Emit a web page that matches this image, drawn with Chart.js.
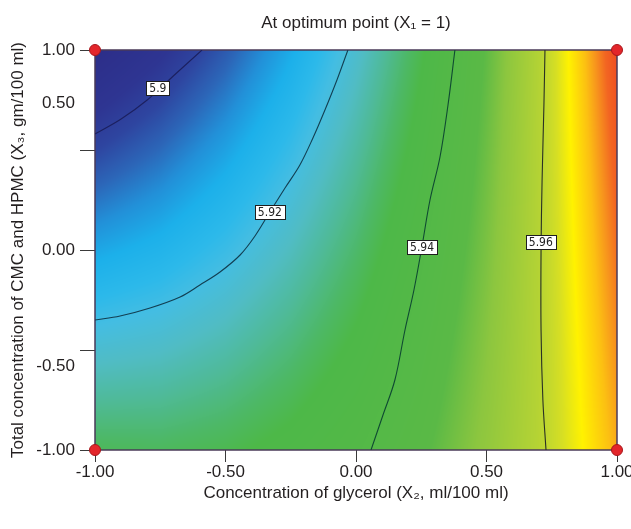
<!DOCTYPE html>
<html><head><meta charset="utf-8">
<script src="https://cdn.jsdelivr.net/npm/chart.js@4.4.1/dist/chart.umd.min.js"></script>
<style>html,body{margin:0;padding:0;background:#fff}#wrap{width:631px;height:529px}</style>
</head><body><div id="wrap"><canvas id="c" width="631" height="529"></canvas></div>
<script>
// ---------- data ----------
const chartTitle = 'At optimum point (X\u2081 = 1)';
const xAxisTitle = 'Concentration of glycerol (X\u2082, ml/100 ml)';
const yAxisTitle = 'Total concentration of CMC and HPMC (X\u2083, gm/100 ml)';

const xTickValues = [-1, -0.5, 0, 0.5, 1];
const xTickLabels = ['-1.00', '-0.50', '0.00', '0.50', '1.00'];
const yTickValues = [-1, -0.5, 0, 0.5, 1];
const yTickLabels = ['-1.00', '-0.50', '0.00', '0.50', '1.00'];

// response surface values (estimated) on a grid of X2 (columns) and X3 (rows)
const gridX2 = [-1, -0.75, -0.5, -0.25, 0, 0.25, 0.5, 0.75, 1];
const gridX3 = [1, 0.5, 0, -0.5, -1];
const respX3_p100 = [5.8902, 5.8961, 5.9035, 5.9123, 5.9226, 5.9343, 5.9475, 5.9619, 5.9779];
const respX3_p050 = [5.9009, 5.9053, 5.9112, 5.9184, 5.9271, 5.9372, 5.9489, 5.9618, 5.9762];
const respX3_000  = [5.9117, 5.9145, 5.9188, 5.9245, 5.9316, 5.9402, 5.9503, 5.9616, 5.9745];
const respX3_m050 = [5.9225, 5.9237, 5.9264, 5.9306, 5.9361, 5.9432, 5.9517, 5.9614, 5.9728];
const respX3_m100 = [5.9332, 5.9329, 5.9341, 5.9367, 5.9406, 5.9461, 5.9531, 5.9613, 5.9711];

// contour lines
const contourLevels = ['5.9', '5.92', '5.94', '5.96'];
const c590X = [-1, -0.9, -0.8, -0.7, -0.59];
const c590Y = [0.58, 0.655, 0.75, 0.87, 1.0];
const c592X = [-1, -0.904, -0.789, -0.674, -0.598, -0.521, -0.444, -0.387, -0.330, -0.272, -0.215, -0.165, -0.119, -0.073, -0.031];
const c592Y = [-0.35, -0.33, -0.29, -0.235, -0.175, -0.11, -0.025, 0.07, 0.19, 0.31, 0.425, 0.56, 0.70, 0.85, 1.0];
const c594X = [0.0575, 0.1034, 0.149, 0.1877, 0.222, 0.253, 0.2835, 0.3218, 0.3525, 0.379];
const c594Y = [-1, -0.825, -0.65, -0.40, -0.20, 0.02, 0.25, 0.465, 0.725, 1.0];
const c596X = [0.728, 0.716, 0.709, 0.709, 0.713, 0.720, 0.724];
const c596Y = [-1, -0.75, -0.4, 0.0, 0.35, 0.725, 1.0];
// where each contour's value label sits
const contourLabelX = [-0.759, -0.330, 0.253, 0.708];
const contourLabelY = [0.81, 0.19, 0.015, 0.04];

// design points (red dots)
const designX2 = [-1, -1, 1, 1];
const designX3 = [-1, 1, -1, 1];

// ---------- styling ----------
const FONT = '"Liberation Sans", Arial, sans-serif';
const TXT = '#231f20';
// the reference prints the 0.50 / -0.50 labels away from their tick marks
const yLabelAnchors = [-1, -0.58, 0, 0.735, 1];
const colorStops = [
  [5.890, '#2c2d88'], [5.897, '#2e3592'], [5.901, '#2e45a0'], [5.905, '#2c66b8'],
  [5.909, '#2290d8'], [5.913, '#1cb0ea'], [5.917, '#2cb9ea'], [5.920, '#44bde2'],
  [5.924, '#50bcc4'], [5.928, '#4fba98'], [5.932, '#4db866'], [5.935, '#4db848'],
  [5.947, '#5ab946'], [5.952, '#8cc63f'], [5.9595, '#b5d334'], [5.963, '#d7df23'],
  [5.966, '#fff200'], [5.970, '#fcc012'], [5.9725, '#f7941d'], [5.975, '#f26522'],
  [5.979, '#ee4323']
];
const stopRGB = colorStops.map(([v, h]) => [v, parseInt(h.slice(1,3),16), parseInt(h.slice(3,5),16), parseInt(h.slice(5,7),16)]);
function colorFor(z) {
  if (z <= stopRGB[0][0]) return stopRGB[0].slice(1);
  for (let k = 1; k < stopRGB.length; k++) {
    if (z <= stopRGB[k][0]) {
      const a = stopRGB[k-1], b = stopRGB[k], t = (z - a[0]) / (b[0] - a[0]);
      return [a[1] + (b[1]-a[1])*t, a[2] + (b[2]-a[2])*t, a[3] + (b[3]-a[3])*t];
    }
  }
  return stopRGB[stopRGB.length-1].slice(1);
}
const respRows = [respX3_p100, respX3_p050, respX3_000, respX3_m050, respX3_m100];
function responseAt(xv, yv) {
  let i = 0; while (i < gridX2.length - 2 && xv > gridX2[i+1]) i++;
  let j = 0; while (j < gridX3.length - 2 && yv < gridX3[j+1]) j++;
  const tx = (xv - gridX2[i]) / (gridX2[i+1] - gridX2[i]);
  const ty = (yv - gridX3[j]) / (gridX3[j+1] - gridX3[j]);
  const a = respRows[j][i], b = respRows[j][i+1], c = respRows[j+1][i], d = respRows[j+1][i+1];
  return (a*(1-tx) + b*tx)*(1-ty) + (c*(1-tx) + d*tx)*ty;
}

const heatPlugin = {
  id: 'heat',
  beforeDatasetsDraw(chart) {
    const {ctx, chartArea: a, scales: {x, y}} = chart;
    const L = Math.round(a.left), T = Math.round(a.top);
    const W = Math.round(a.right) - L, H = Math.round(a.bottom) - T;
    const off = document.createElement('canvas'); off.width = W; off.height = H;
    const octx = off.getContext('2d');
    const img = octx.createImageData(W, H);
    for (let j = 0; j < H; j++) {
      const yv = y.getValueForPixel(T + j + 0.5);
      for (let i = 0; i < W; i++) {
        const xv = x.getValueForPixel(L + i + 0.5);
        const c = colorFor(responseAt(xv, yv));
        const p = (j*W + i)*4;
        img.data[p] = c[0]; img.data[p+1] = c[1]; img.data[p+2] = c[2]; img.data[p+3] = 255;
      }
    }
    octx.putImageData(img, 0, 0);
    ctx.save();
    ctx.drawImage(off, L, T);
    ctx.strokeStyle = '#4a3a58'; ctx.lineWidth = 1.5;
    ctx.strokeRect(L, T, W, H);
    ctx.restore();
  },
  afterDatasetsDraw(chart) {
    const {ctx, scales: {x, y}} = chart;
    ctx.save();
    ctx.font = '12px "Liberation Sans Narrow", "DejaVu Sans Condensed", ' + FONT;
    ctx.textAlign = 'center'; ctx.textBaseline = 'middle';
    contourLevels.forEach((t, k) => {
      const px = x.getPixelForValue(contourLabelX[k]), py = y.getPixelForValue(contourLabelY[k]);
      const w = Math.round(ctx.measureText(t).width + 6), h = 14;
      const bx = Math.round(px - w/2) + 0.5, by = Math.round(py - h/2) + 0.5;
      ctx.fillStyle = '#ffffff'; ctx.fillRect(bx, by, w, h);
      ctx.strokeStyle = '#1e1e1e'; ctx.lineWidth = 1; ctx.strokeRect(bx, by, w, h);
      ctx.fillStyle = '#222'; ctx.fillText(t, px, py + 0.5);
    });
    ctx.restore();
  },
  afterDraw(chart) {
    const {ctx, chartArea: a} = chart;
    ctx.save();
    ctx.font = '17px ' + FONT; ctx.fillStyle = TXT;
    ctx.textAlign = 'center'; ctx.textBaseline = 'middle';
    ctx.fillText(chartTitle, (a.left + a.right)/2, 23);
    ctx.restore();
  }
};

const toPts = (xs, ys) => xs.map((v, i) => ({x: v, y: ys[i]}));
const contourStyle = (col) => ({showLine: true, pointRadius: 0, borderWidth: 1.1, borderColor: col, tension: 0.35, fill: false});
const ySlots = Array.from(new Set([...yTickValues, ...yLabelAnchors])).sort((a, b) => a - b);

new Chart(document.getElementById('c'), {
  type: 'scatter',
  data: {
    datasets: [
      {data: toPts(designX2, designX3), pointRadius: 5.5, pointHoverRadius: 5.5, backgroundColor: '#e3262b', borderColor: '#a8161c', borderWidth: 1, clip: false},
      Object.assign({data: toPts(c590X, c590Y)}, contourStyle('#1c2060')),
      Object.assign({data: toPts(c592X, c592Y)}, contourStyle('#123f52')),
      Object.assign({data: toPts(c594X, c594Y)}, contourStyle('#0f4a32')),
      Object.assign({data: toPts(c596X, c596Y)}, contourStyle('#2a3024'))
    ]
  },
  options: {
    responsive: false, animation: false, devicePixelRatio: 1,
    layout: {padding: {top: 50, right: 14, left: 0, bottom: 0}},
    plugins: {legend: {display: false}, tooltip: {enabled: false}, title: {display: false}},
    scales: {
      x: {
        type: 'linear', min: -1, max: 1,
        afterBuildTicks: s => { s.ticks = xTickValues.map(v => ({value: v})); },
        afterFit: s => { s.height = 79; s.paddingLeft = 0; s.paddingRight = 0; },
        ticks: {autoSkip: false, maxRotation: 0, padding: 0, color: TXT, font: {family: FONT, size: 17},
          callback: v => { const k = xTickValues.indexOf(v); return k >= 0 ? xTickLabels[k] : ''; }},
        grid: {drawOnChartArea: false, drawTicks: true, tickLength: 12, tickColor: '#3a3a3a', tickWidth: 1},
        border: {display: false},
        title: {display: true, text: xAxisTitle, color: TXT, font: {family: FONT, size: 17}, padding: {top: 0, bottom: 25}}
      },
      y: {
        type: 'linear', min: -1, max: 1,
        afterBuildTicks: s => { s.ticks = ySlots.map(v => ({value: v})); },
        afterFit: s => { s.width = 95; s.paddingTop = 0; s.paddingBottom = 0; },
        ticks: {autoSkip: false, padding: 5, color: TXT, font: {family: FONT, size: 17},
          callback: v => { const k = yLabelAnchors.indexOf(v); return k >= 0 ? yTickLabels[k] : ''; }},
        grid: {drawOnChartArea: false, drawTicks: true, tickLength: 15, tickWidth: 1,
          tickColor: c => (c.tick && yTickValues.includes(c.tick.value)) ? '#3a3a3a' : 'rgba(0,0,0,0)'},
        border: {display: false},
        title: {display: true, text: yAxisTitle, color: TXT, font: {family: FONT, size: 17}, padding: {top: 8, bottom: 0}}
      }
    }
  },
  plugins: [heatPlugin]
});
</script>
</body></html>
